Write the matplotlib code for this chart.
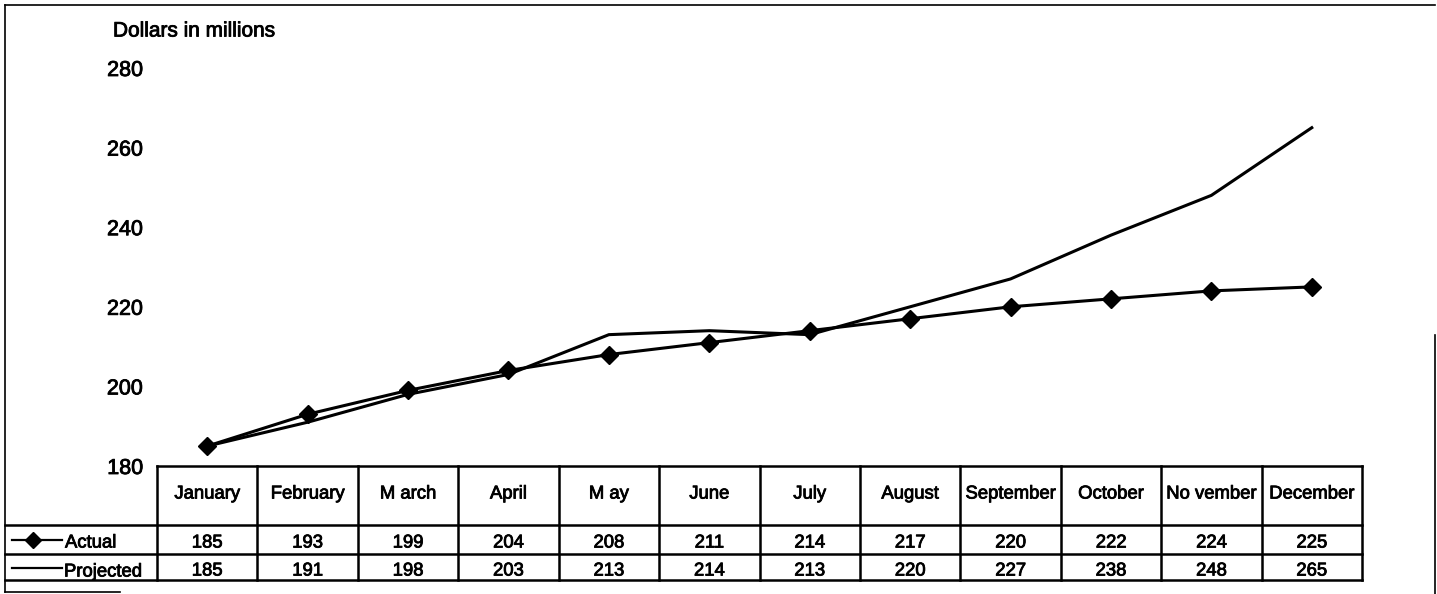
import matplotlib
matplotlib.use("Agg")
import matplotlib.pyplot as plt
import matplotlib.patheffects as pe
from matplotlib.lines import Line2D

plt.rcParams["font.family"] = ["Liberation Sans", "DejaVu Sans"]

months = ["January", "February", "M arch", "April", "M ay", "June", "July",
          "August", "September", "October", "No vember", "December"]
actual = [185, 193, 199, 204, 208, 211, 214, 217, 220, 222, 224, 225]
projected = [185, 191, 198, 203, 213, 214, 213, 220, 227, 238, 248, 265]
y_ticks = [180, 200, 220, 240, 260, 280]

W, H = 1437, 594
fig = plt.figure(figsize=(W / 100, H / 100), dpi=100)

# scanned print looks heavier than plain regular text
heavy = [pe.withStroke(linewidth=0.6, foreground="black")]


def fx(px):
    return px / W


def fy(py):
    return 1 - py / H


def hline(x0, x1, y, lw=1.8):
    fig.add_artist(Line2D([fx(x0), fx(x1)], [fy(y), fy(y)], color="black", lw=lw))


def vline(x, y0, y1, lw=1.8):
    fig.add_artist(Line2D([fx(x), fx(x)], [fy(y0), fy(y1)], color="black", lw=lw))


def label(px, py, s, size, **kw):
    fig.text(fx(px), fy(py), s, fontsize=size, va="center_baseline",
             path_effects=heavy, **kw)


# plot area lines up with the table columns
left, right = 157, 1362
top, bottom = 68, 466
ax = fig.add_axes([fx(left), fy(bottom), fx(right - left), (bottom - top) / H])
x = list(range(len(months)))
ax.plot(x, actual, color="black", lw=2.2, marker="D", markersize=9)
ax.plot(x, projected, color="black", lw=2.2)
ax.set_xlim(-0.5, len(months) - 0.5)
ax.set_ylim(180, 280)
ax.set_yticks(y_ticks)
ax.set_yticklabels([str(v) for v in y_ticks], fontsize=15.5, path_effects=heavy)
ax.tick_params(axis="y", length=0, pad=10)
ax.set_xticks([])
for s in ax.spines.values():
    s.set_visible(False)
ax.patch.set_alpha(0)

label(113, 29, "Dollars in millions", 15)

# data table
col_w = (right - left) / len(months)
r0, r1, r2, r3 = 466, 525, 554, 580
hline(left, right, r0)
hline(5, right, r1)
hline(5, right, r2)
hline(5, right, r3)
for i in range(len(months) + 1):
    vline(left + i * col_w, r0, r3)

fs = 13.3
for i, m in enumerate(months):
    cx = left + (i + 0.5) * col_w
    label(cx, 492, m, fs, ha="center")
    label(cx, 541, str(actual[i]), fs, ha="center")
    label(cx, 569, str(projected[i]), fs, ha="center")

# legend keys in the row headers
fig.add_artist(Line2D([fx(12), fx(62)], [fy(540), fy(540)], color="black", lw=1.6))
fig.add_artist(Line2D([fx(33)], [fy(540)], color="black", marker="D", markersize=8))
label(65, 541, "Actual", fs)
fig.add_artist(Line2D([fx(12), fx(62)], [fy(568), fy(568)], color="black", lw=1.6))
label(64, 570, "Projected", fs)

# outer frame
hline(5, W - 2, 5, lw=1.2)
vline(5, 5, 592, lw=1.2)
vline(W - 2, 335, 594, lw=1.2)
hline(5, 120, 592, lw=1.2)

fig.savefig("out.png", dpi=100)
